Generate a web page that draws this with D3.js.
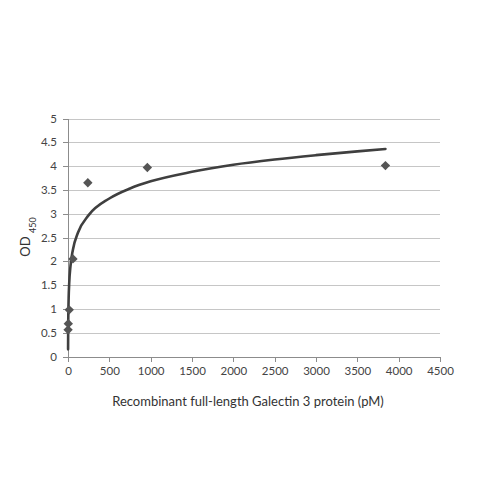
<!DOCTYPE html>
<html lang="en">
  <head>
    <meta charset="utf-8">
    <title>Galectin 3 standard curve</title>
    <script type="text/javascript" src="https://cdn.jsdelivr.net/npm/d3@7"></script>
    <style>
      body { margin: 0; background: #fff; }
      .axis text {
        font-family: Lato, sans-serif;
        font-size: 11.5px;
        fill: #444;
      }
      .axis path, .axis line {
        stroke: #8c8c8c;
        shape-rendering: crispEdges;
      }
    </style>
  </head>
  <body>
    <script type="text/javascript">

      var w = 500;
      var h = 500;

      // measured points (pM, OD450)
      var concentrations = [0.94, 3.75, 15, 60, 240, 960, 3840];
      var odValues = [0.56, 0.69, 0.98, 2.05, 3.65, 3.97, 4.01];

      // trend line
      var trendX = [0.94, 2, 4, 8, 15, 30, 60, 120, 250, 500, 750, 1000, 1500, 2000, 2500, 3000, 3500, 3840];
      var trendY = [0.15, 0.53, 0.88, 1.23, 1.55, 1.9, 2.25, 2.6, 2.97, 3.32, 3.53, 3.68, 3.88, 4.03, 4.14, 4.23, 4.31, 4.36];

      var xTicks = [0, 500, 1000, 1500, 2000, 2500, 3000, 3500, 4000, 4500];
      var yTicks = [0, 0.5, 1, 1.5, 2, 2.5, 3, 3.5, 4, 4.5, 5];

      var svg = d3.select("body")
                  .append("svg")
                  .attr("width", w)
                  .attr("height", h);

      var xScale = d3.scaleLinear()
                     .domain([0, 4500])
                     .range([68, 440]);

      var yScale = d3.scaleLinear()
                     .domain([0, 5])
                     .range([356.5, 118.5]);

      // horizontal gridlines
      svg.append("g")
         .selectAll("line")
         .data(yTicks.slice(1))
         .enter()
         .append("line")
         .attr("x1", xScale(0))
         .attr("x2", xScale(4500))
         .attr("y1", function(d) { return Math.round(yScale(d)) + 0.5; })
         .attr("y2", function(d) { return Math.round(yScale(d)) + 0.5; })
         .attr("stroke", "#c6c6c6")
         .attr("stroke-width", 1);

      var xAxis = d3.axisBottom(xScale)
                    .tickValues(xTicks)
                    .tickFormat(function(d) { return String(d); })
                    .tickSize(5)
                    .tickPadding(5)
                    .tickSizeOuter(0);

      var yAxis = d3.axisLeft(yScale)
                    .tickValues(yTicks)
                    .tickFormat(function(d) { return String(d); })
                    .tickSize(5)
                    .tickPadding(6)
                    .tickSizeOuter(0);

      svg.append("g")
         .attr("class", "axis")
         .attr("transform", "translate(0," + yScale(0) + ")")
         .call(xAxis);

      svg.append("g")
         .attr("class", "axis")
         .attr("transform", "translate(" + xScale(0) + ",0)")
         .call(yAxis);

      // trend line
      var trend = trendX.map(function(d, i) { return [d, trendY[i]]; });
      var line = d3.line()
                   .x(function(d) { return xScale(d[0]); })
                   .y(function(d) { return yScale(d[1]); })
                   .curve(d3.curveMonotoneX);

      svg.append("path")
         .datum(trend)
         .attr("d", line)
         .attr("fill", "none")
         .attr("stroke", "#3f3f3f")
         .attr("stroke-width", 2.6)
         .attr("stroke-linecap", "round");

      // diamond markers
      var diamond = d3.symbol().type(d3.symbolSquare).size(44);
      svg.append("g")
         .selectAll("path")
         .data(concentrations)
         .enter()
         .append("path")
         .attr("d", diamond)
         .attr("transform", function(d, i) {
           return "translate(" + xScale(d) + "," + yScale(odValues[i]) + ") rotate(45)";
         })
         .attr("fill", "#555");

      // axis titles
      svg.append("text")
         .attr("x", 248)
         .attr("y", 406)
         .attr("text-anchor", "middle")
         .attr("font-family", "Lato, sans-serif")
         .attr("font-size", "13px")
         .attr("fill", "#333")
         .text("Recombinant full-length Galectin 3 protein (pM)");

      var yTitle = svg.append("text")
         .attr("transform", "translate(30,237) rotate(-90)")
         .attr("text-anchor", "middle")
         .attr("font-family", "Lato, sans-serif")
         .attr("font-size", "13px")
         .attr("fill", "#333");
      yTitle.append("tspan").text("OD ");
      yTitle.append("tspan")
            .attr("font-size", "9px")
            .attr("baseline-shift", "sub")
            .text("450");

    </script>
  </body>
</html>
